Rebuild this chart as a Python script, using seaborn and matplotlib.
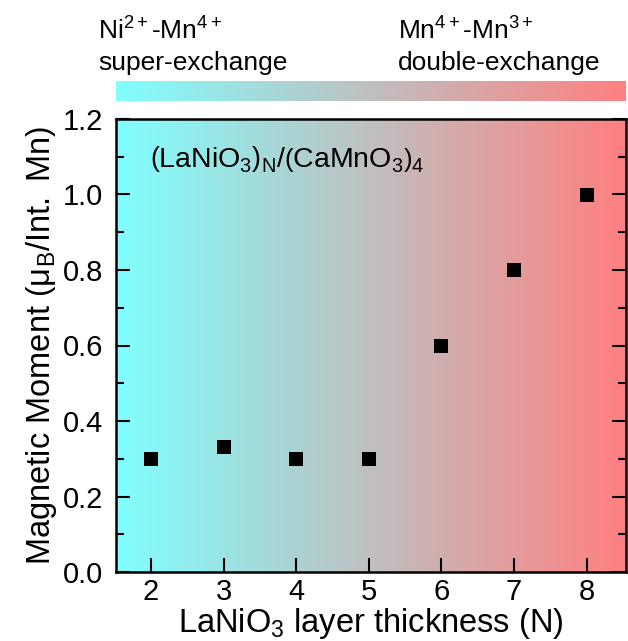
import numpy as np
import matplotlib
matplotlib.use("Agg")
import matplotlib.pyplot as plt
import seaborn as sns
from matplotlib.colors import LinearSegmentedColormap
from matplotlib.ticker import MultipleLocator, FormatStrFormatter

N = [2, 3, 4, 5, 6, 7, 8]
moment = [0.30, 0.33, 0.30, 0.30, 0.60, 0.80, 1.00]
xticks = [2, 3, 4, 5, 6, 7, 8]

sns.set_theme(style="ticks")
plt.rcParams['font.family'] = ['Liberation Sans', 'DejaVu Sans']
plt.rcParams['mathtext.fontset'] = 'custom'
plt.rcParams['mathtext.rm'] = 'Liberation Sans'
plt.rcParams['mathtext.it'] = 'Liberation Sans'
plt.rcParams['mathtext.default'] = 'regular'
plt.rcParams['text.color'] = 'black'
plt.rcParams['axes.labelcolor'] = 'black'
plt.rcParams['xtick.color'] = 'black'
plt.rcParams['ytick.color'] = 'black'

W, H = 628, 641
fig = plt.figure(figsize=(W / 100, H / 100), dpi=100)
ax = fig.add_axes([116 / W, 1 - 572 / H, (626 - 116) / W, (572 - 119) / H])
cbax = fig.add_axes([116 / W, 1 - 101 / H, (626 - 116) / W, 20 / H])

cmap = LinearSegmentedColormap.from_list("ex", ["#80FFFF", "#FF8080"])
grad = np.linspace(0, 1, 256).reshape(1, -1)

xlim = (1.52, 8.54)
ylim = (0, 1.2)
ax.imshow(grad, cmap=cmap, aspect='auto', extent=[xlim[0], xlim[1], ylim[0], ylim[1]], zorder=0)
cbax.imshow(grad, cmap=cmap, aspect='auto')
cbax.axis('off')

sns.scatterplot(x=N, y=moment, marker='s', s=105, color='black', edgecolor='black', linewidth=0, ax=ax, zorder=3)
ax.set_xlim(*xlim)
ax.set_ylim(*ylim)
ax.set_xticks(xticks)
ax.yaxis.set_major_locator(MultipleLocator(0.2))
ax.yaxis.set_minor_locator(MultipleLocator(0.1))
ax.yaxis.set_major_formatter(FormatStrFormatter('%.1f'))
ax.tick_params(axis='both', which='major', direction='in', length=10, width=1.5, labelsize=21,
               right=True, colors='black')
ax.tick_params(axis='x', which='major', pad=4)
ax.tick_params(axis='y', which='major', pad=9)
ax.tick_params(axis='y', which='minor', direction='in', length=6, width=1.5, right=True, colors='black')
for s in ax.spines.values():
    s.set_linewidth(1.8)
    s.set_color('black')

ax.set_xlabel(r'LaNiO$_3$ layer thickness (N)', fontsize=23.5, labelpad=0, color='black')
ax.set_ylabel(r'Magnetic Moment $\left(\mu_B/\mathrm{Int.\ Mn}\right)$', fontsize=23.5, labelpad=3, color='black')
ax.text(0.067, 0.894, r'$\left(\mathrm{LaNiO_3}\right)_N/\left(\mathrm{CaMnO_3}\right)_4$',
        transform=ax.transAxes, fontsize=20.5, va='baseline', ha='left', color='black')

fig.text(98 / W, 1 - 40 / H, r'Ni$^{2+}$-Mn$^{4+}$', fontsize=19, va='baseline', ha='left', color='black')
fig.text(98 / W, 1 - 70 / H, 'super-exchange', fontsize=19, va='baseline', ha='left', color='black')
fig.text(398 / W, 1 - 40 / H, r'Mn$^{4+}$-Mn$^{3+}$', fontsize=19, va='baseline', ha='left', color='black')
fig.text(398 / W, 1 - 70 / H, 'double-exchange', fontsize=19, va='baseline', ha='left', color='black')

fig.savefig('out.png', dpi=100)
